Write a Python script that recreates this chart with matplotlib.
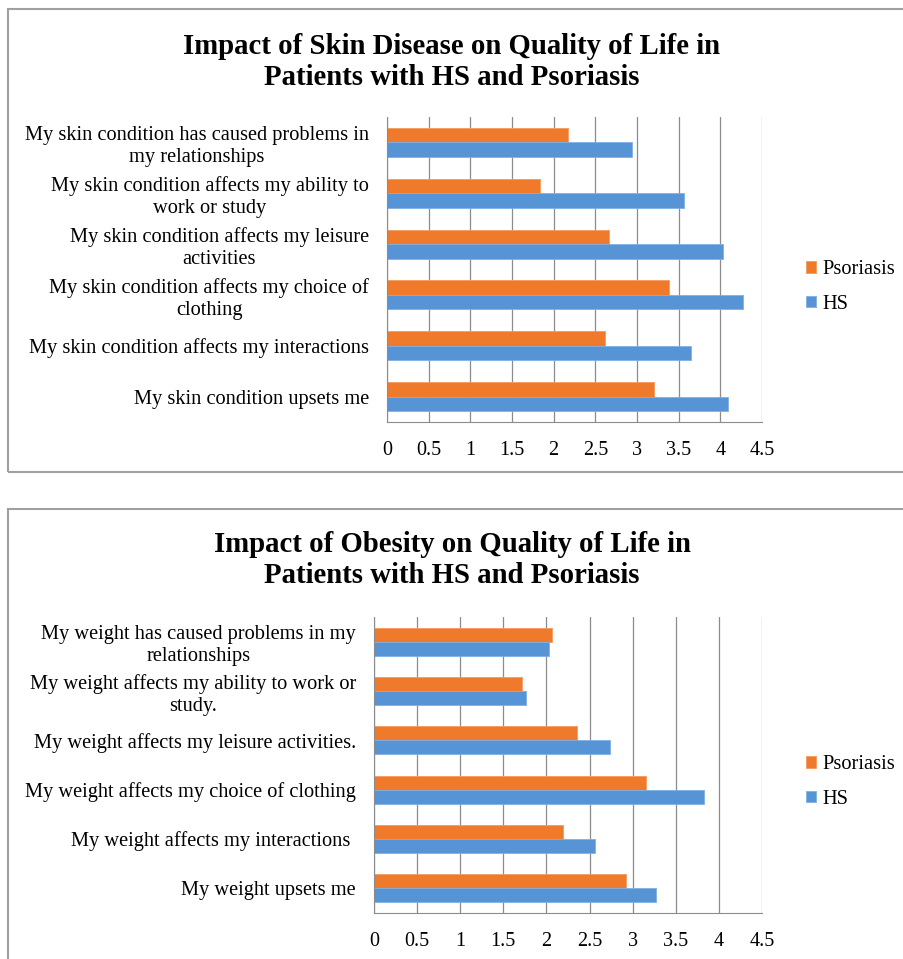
import matplotlib
matplotlib.use("Agg")
import matplotlib.pyplot as plt
from matplotlib.patches import Rectangle

plt.rcParams['font.family'] = ['Liberation Serif', 'DejaVu Serif']

skin_labels = [
    "My skin condition has caused problems in\nmy relationships",
    "My skin condition affects my ability to\nwork or study",
    "My skin condition affects my leisure\nactivities",
    "My skin condition affects my choice of\nclothing",
    "My skin condition affects my interactions",
    "My skin condition upsets me",
]
skin_psoriasis = [2.17, 1.83, 2.66, 3.39, 2.62, 3.20]
skin_hs = [2.94, 3.56, 4.03, 4.27, 3.65, 4.09]

weight_labels = [
    "My weight has caused problems in my\nrelationships",
    "My weight affects my ability to work or\nstudy.",
    "My weight affects my leisure activities.",
    "My weight affects my choice of clothing",
    "My weight affects my interactions ",
    "My weight upsets me",
]
weight_psoriasis = [2.07, 1.72, 2.36, 3.15, 2.19, 2.92]
weight_hs = [2.03, 1.76, 2.74, 3.83, 2.56, 3.27]

xticks = [0, 0.5, 1, 1.5, 2, 2.5, 3, 3.5, 4, 4.5]
xticklabels = ["0", "0.5", "1", "1.5", "2", "2.5", "3", "3.5", "4", "4.5"]

orange = "#EF7A2B"
blue = "#5694D6"

fig = plt.figure(figsize=(9.04, 9.59), dpi=100)

# panel borders
for y0, h in [(1 - 472 / 959, (472 - 9) / 959), (-0.05, 0.05 + (959 - 509) / 959)]:
    fig.patches.append(Rectangle((8 / 904, y0), 1.0, h, transform=fig.transFigure,
                                 fill=False, edgecolor="#A0A0A0", linewidth=1.5))


def draw_panel(rect, title, title_y, labels, psor, hs, legend_y):
    ax = fig.add_axes(rect)
    n = len(labels)
    pos = list(range(n))
    h = 0.285
    ax.barh([p - h / 2 for p in pos], psor, height=h, color=orange,
            edgecolor="#F49A5E", linewidth=0.6, label="Psoriasis")
    ax.barh([p + h / 2 for p in pos], hs, height=h, color=blue,
            edgecolor="#7FB0E3", linewidth=0.6, label="HS")
    ax.set_ylim(n - 0.5, -0.5)
    ax.set_xlim(0, 4.5)
    ax.set_xticks(xticks)
    ax.set_xticklabels(xticklabels, fontsize=14.5)
    ax.set_yticks(pos)
    ax.set_yticklabels(labels, fontsize=14.7)
    for lab in ax.get_yticklabels():
        lab.set_multialignment("center")
        lab.set_linespacing(1.22)
    ax.tick_params(axis="x", length=0, pad=14)
    ax.tick_params(axis="y", length=0, pad=13)
    ax.grid(axis="x", color="#8C8C8C", linewidth=0.9)
    ax.set_axisbelow(True)
    for side in ["top", "right"]:
        ax.spines[side].set_visible(False)
    ax.spines["left"].set_color("#8C8C8C")
    ax.spines["bottom"].set_color("#8C8C8C")
    fig.text(0.5, title_y, title, ha="center", va="center", fontsize=20.7,
             fontweight="bold", linespacing=1.22)
    handles, lbls = ax.get_legend_handles_labels()
    fig.legend(handles, lbls, loc="center left", bbox_to_anchor=(0.871, legend_y),
               frameon=False, fontsize=14.7, handlelength=0.5, handleheight=0.5,
               handletextpad=0.3, labelspacing=0.75)
    return ax


draw_panel([387 / 904, 1 - 422 / 959, 375 / 904, 305 / 959],
           "Impact of Skin Disease on Quality of Life in\nPatients with HS and Psoriasis",
           1 - 62 / 959, skin_labels, skin_psoriasis, skin_hs, 1 - 287 / 959)

draw_panel([374 / 904, 1 - 913 / 959, 388 / 904, 296 / 959],
           "Impact of Obesity on Quality of Life in\nPatients with HS and Psoriasis",
           1 - 560 / 959, weight_labels, weight_psoriasis, weight_hs, 1 - 782 / 959)

fig.savefig("out.png", dpi=100)
